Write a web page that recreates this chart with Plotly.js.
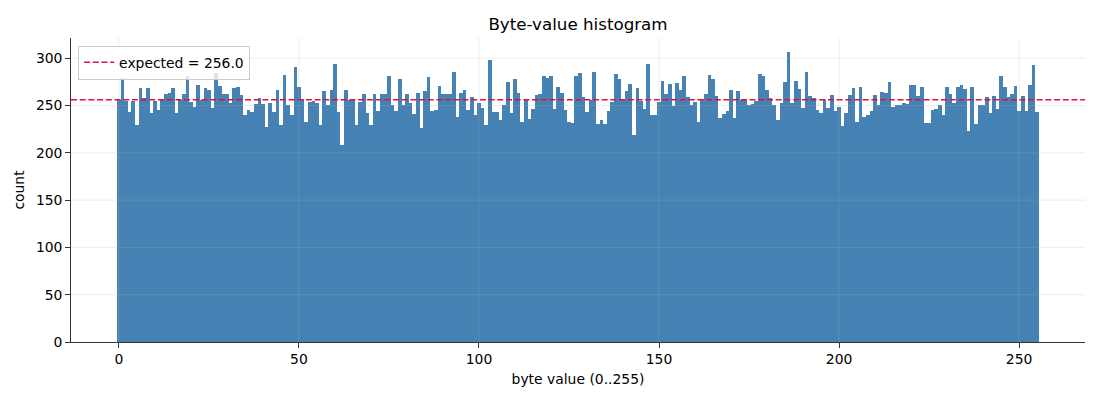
<!DOCTYPE html>
<html>
<head>
<meta charset="utf-8">
<script src="https://cdn.plot.ly/plotly-3.0.1.min.js"></script>
<style>
  html, body { margin: 0; padding: 0; background: #fff; }
  #chart { width: 1100px; height: 400px; }
</style>
</head>
<body>
<div id="chart"></div>
<script>
// counts per byte value (0..255)
const counts = [
  256, 279, 255, 243, 255, 229, 268, 258, 268, 242,
  255, 245, 257, 262, 263, 268, 242, 256, 262, 281,
  254, 248, 272, 256, 268, 266, 247, 284, 271, 262,
  262, 253, 268, 270, 261, 240, 245, 243, 252, 258,
  252, 227, 253, 243, 266, 229, 282, 251, 240, 291,
  269, 257, 233, 254, 255, 253, 229, 265, 250, 266,
  294, 243, 208, 266, 256, 256, 229, 254, 262, 242,
  229, 262, 244, 262, 262, 281, 250, 244, 278, 250,
  262, 253, 241, 263, 226, 265, 280, 244, 245, 271,
  262, 262, 262, 285, 238, 263, 266, 245, 259, 240,
  253, 247, 229, 298, 243, 243, 235, 251, 275, 242,
  278, 263, 233, 257, 236, 246, 261, 262, 281, 279,
  281, 246, 269, 263, 245, 232, 231, 281, 284, 259,
  243, 256, 285, 230, 235, 230, 244, 254, 283, 278,
  256, 265, 273, 219, 268, 255, 246, 294, 240, 240,
  254, 276, 262, 273, 249, 274, 266, 281, 259, 251,
  254, 232, 257, 262, 282, 278, 260, 237, 241, 244,
  266, 237, 265, 256, 256, 250, 252, 255, 283, 281,
  266, 258, 251, 235, 253, 275, 306, 253, 276, 267,
  247, 285, 260, 258, 245, 242, 256, 247, 261, 244,
  248, 228, 242, 261, 268, 233, 270, 238, 240, 244,
  261, 250, 264, 263, 275, 248, 250, 250, 253, 252,
  272, 272, 260, 270, 231, 231, 245, 246, 250, 240,
  270, 262, 253, 270, 272, 267, 223, 269, 230, 250,
  250, 259, 242, 260, 246, 281, 269, 259, 262, 271,
  244, 260, 244, 272, 293, 243
];
const byteValues = counts.map((c, i) => i);
const expected = 256.0;

const xTicks = [0, 50, 100, 150, 200, 250];
const yTicks = [0, 50, 100, 150, 200, 250, 300];

// matplotlib-style autoscale: 5% padding
const xPad = 0.05 * (byteValues.length);
const xRange = [-0.5 - xPad, byteValues.length - 0.5 + xPad];
const yRange = [0, Math.max(...counts) * 1.05];

const font = 'DejaVu Sans, sans-serif';
const gridColor = 'rgba(176,176,176,0.3)';

// grid is drawn over the bars, as in the reference
const gridShapes = [
  ...xTicks.map(v => ({
    type: 'line', xref: 'x', yref: 'paper', x0: v, x1: v, y0: 0, y1: 1,
    line: { color: gridColor, width: 0.8 }, layer: 'above'
  })),
  ...yTicks.filter(v => v > 0).map(v => ({
    type: 'line', xref: 'paper', yref: 'y', x0: 0, x1: 1, y0: v, y1: v,
    line: { color: gridColor, width: 0.8 }, layer: 'above'
  }))
];

const bars = {
  type: 'bar',
  x: byteValues,
  y: counts,
  width: 1,
  marker: { color: '#4682b4', line: { width: 0 } },
  showlegend: false,
  hoverinfo: 'x+y'
};

const expLine = {
  type: 'scatter',
  mode: 'lines',
  x: xRange,
  y: [expected, expected],
  name: 'expected = ' + expected.toFixed(1),
  line: { color: '#dc143c', width: 1.5, dash: '6px,2.7px' },
  hoverinfo: 'name'
};

const layout = {
  width: 1100,
  height: 400,
  margin: { l: 71, r: 15, t: 38, b: 58 },
  paper_bgcolor: '#fff',
  plot_bgcolor: '#fff',
  font: { family: font, size: 13.9, color: '#000' },
  title: {
    text: 'Byte-value histogram',
    font: { family: font, size: 16.7, color: '#000' },
    x: 0.5, xanchor: 'center', y: 0.94, yanchor: 'middle', xref: 'paper'
  },
  bargap: 0,
  showlegend: true,
  legend: {
    x: 0.007, y: 0.975, xanchor: 'left', yanchor: 'top',
    bgcolor: 'rgba(255,255,255,0.8)', bordercolor: '#cccccc', borderwidth: 1,
    font: { family: font, size: 13.9, color: '#000' }
  },
  xaxis: {
    range: xRange,
    tickmode: 'array',
    tickvals: xTicks,
    ticks: 'outside', ticklen: 5, tickwidth: 0.8, tickcolor: '#000',
    showline: true, linecolor: '#000', linewidth: 0.8,
    showgrid: false, zeroline: false,
    tickfont: { family: font, size: 13.9, color: '#000' },
    title: { text: 'byte value (0..255)', font: { family: font, size: 13.9, color: '#000' }, standoff: 7 }
  },
  yaxis: {
    range: yRange,
    tickmode: 'array',
    tickvals: yTicks,
    ticks: 'outside', ticklen: 5, tickwidth: 0.8, tickcolor: '#000',
    showline: true, linecolor: '#000', linewidth: 0.8,
    showgrid: false, zeroline: false,
    tickfont: { family: font, size: 13.9, color: '#000' },
    title: { text: 'count', font: { family: font, size: 13.9, color: '#000' }, standoff: 7 }
  },
  shapes: gridShapes
};

Plotly.newPlot('chart', [bars, expLine], layout, { displayModeBar: false, staticPlot: true });
</script>
</body>
</html>
